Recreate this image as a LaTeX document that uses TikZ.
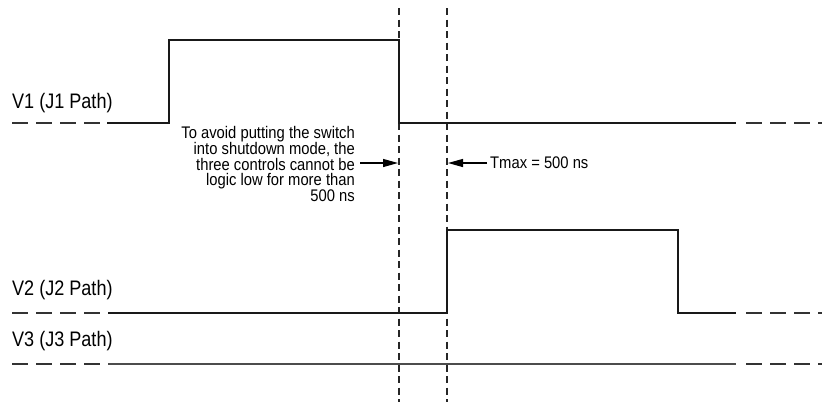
\documentclass[tikz,border=0pt]{standalone}
\usepackage{fontspec}
\setmainfont{Liberation Sans}[FakeStretch=0.86]
\newfontfamily\notefont{Liberation Sans}[FakeStretch=0.88]
\usetikzlibrary{arrows.meta, positioning, calc}

\begin{document}
\begin{tikzpicture}[
    x=1pt, y=-1pt,
    >={Triangle[length=15pt, width=8pt]},
    signal/.style={
        line width=1.8pt,
        draw=black!90
    },
    quiet/.style={
        line width=1.4pt,
        draw=black!70
    },
    extend/.style={
        line width=1.5pt,
        draw=black!80,
        dash pattern=on 16pt off 8pt
    },
    marker/.style={
        line width=1.3pt,
        draw=black!85,
        dash pattern=on 7pt off 4.5pt
    },
    callout/.style={
        ->,
        line width=1.2pt
    },
    pathlabel/.style={
        font=\fontsize{21}{23}\selectfont,
        anchor=west,
        inner sep=0pt
    },
    note/.style={
        font=\notefont\fontsize{16.8}{15.8}\selectfont,
        inner sep=0pt
    }
]
\useasboundingbox (0,0) rectangle (822,402);

% timing markers
\coordinate (tfall) at (399,8);
\coordinate (trise) at (447,8);
\draw[marker] (tfall) -- ++(0,394);
\draw[marker] (trise) -- ++(0,394);

% V1
\node[pathlabel] (v1) at (12,103) {V1 (J1 Path)};
\draw[extend] (12,123) -- (100,123);
\draw[signal] (107,123) -- (169,123) -- (169,40) -- (399,40) -- (399,123) -- (736,123);
\draw[extend] (746,123) -- (822,123);

% V2
\node[pathlabel] (v2) at (12,290) {V2 (J2 Path)};
\draw[extend] (12,313) -- (100,313);
\draw[signal] (108,313) -- (447,313) -- (447,230) -- (678,230) -- (678,313) -- (736,313);
\draw[extend] (746,313) -- (822,313);

% V3
\node[pathlabel] (v3) at (12,341) {V3 (J3 Path)};
\draw[extend] (12,364) -- (100,364);
\draw[quiet] (108,364) -- (736,364);
\draw[extend] (746,364) -- (822,364);

% annotations
\node[note, align=right, anchor=east] (why) at (355,164)
    {To avoid putting the switch\\into shutdown mode, the\\three controls cannot be\\logic low for more than\\500 ns};
\coordinate (fallmark) at (398,163);
\draw[callout] (why.east |- fallmark) ++(5,0) -- (fallmark);

\node[note, anchor=west] (tmax) at (490,163) {Tmax = 500 ns};
\coordinate (risemark) at (448,163);
\draw[callout] (tmax.west) ++(-3,0) -- (risemark);

\end{tikzpicture}
\end{document}
